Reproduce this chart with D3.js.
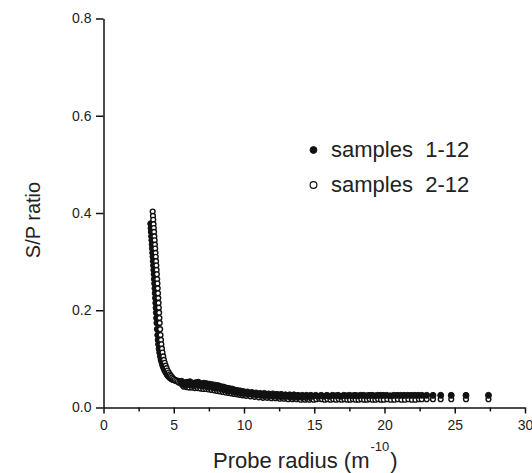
<!DOCTYPE html>
<html>
<head>
<meta charset="utf-8">
<script src="https://cdn.jsdelivr.net/npm/d3@7"></script>
<style>
  body { margin: 0; background: #fff; }
  svg { font-family: "Liberation Sans", Arial, sans-serif; }
  .axis path, .axis line { stroke: #111; stroke-width: 1.5; }
  .axis text { font-size: 14px; fill: #222; }
  .title { font-size: 22px; fill: #222; }
  .legend text { font-size: 22px; fill: #222; }
</style>
</head>
<body>
<svg id="chart"></svg>
<script>
// samples 1-12 (filled circles): [probe radius, S/P ratio]
var samples112 = [
  [3.36,0.378],[3.38,0.369],[3.40,0.361],[3.42,0.352],[3.44,0.344],[3.46,0.335],[3.48,0.327],[3.50,0.318],
  [3.52,0.310],[3.54,0.301],[3.56,0.292],[3.58,0.283],[3.60,0.274],[3.62,0.264],[3.64,0.255],[3.66,0.245],
  [3.68,0.235],[3.70,0.225],[3.72,0.215],[3.74,0.205],[3.76,0.195],[3.78,0.184],[3.80,0.174],[3.83,0.161],
  [3.86,0.149],[3.89,0.139],[3.92,0.130],[3.96,0.121],[4.00,0.113],[4.05,0.105],[4.10,0.098],[4.16,0.092],
  [4.22,0.086],[4.29,0.081],[4.36,0.076],[4.44,0.072],[4.52,0.068],[4.60,0.065],[4.69,0.062],[4.78,0.060],
  [4.88,0.058],[4.98,0.057],[5.08,0.056],[5.20,0.055],[5.32,0.054],[5.44,0.053],
  [5.55,0.054],[5.65,0.048],[5.75,0.051],[5.85,0.046],[5.95,0.052],[6.05,0.048],[6.15,0.053],[6.25,0.047],
  [6.35,0.050],[6.45,0.045],[6.55,0.051],[6.65,0.047],[6.75,0.052],[6.85,0.046],[6.95,0.049],[7.05,0.044],
  [7.15,0.050],[7.25,0.046],[7.35,0.049],[7.45,0.043],[7.55,0.048],[7.65,0.044],[7.75,0.047],[7.85,0.041],
  [7.95,0.046],[8.05,0.041],[8.15,0.045],[8.25,0.040],[8.35,0.043],[8.45,0.038],[8.55,0.042],[8.65,0.037],
  [8.75,0.040],[8.85,0.035],[8.95,0.039],[9.05,0.035],[9.15,0.038],[9.25,0.033],[9.35,0.036],[9.45,0.032],
  [9.55,0.035],[9.65,0.031],[9.75,0.034],[9.85,0.030],[9.95,0.033],
  [10.10,0.029],[10.25,0.032],[10.40,0.028],[10.55,0.031],[10.70,0.027],[10.85,0.030],[11.00,0.026],[11.15,0.029],
  [11.30,0.025],[11.45,0.029],[11.60,0.025],[11.75,0.028],[11.90,0.024],[12.05,0.028],[12.20,0.024],[12.35,0.027],
  [12.50,0.023],[12.65,0.027],[12.80,0.023],[12.95,0.026],[13.10,0.023],[13.25,0.026],[13.40,0.022],[13.55,0.026],
  [13.70,0.022],[13.85,0.025],[14.00,0.022],[14.15,0.025],[14.30,0.022],[14.45,0.025],[14.60,0.022],[14.75,0.025],
  [14.90,0.023],
  [15.10,0.025],[15.30,0.023],[15.50,0.025],[15.70,0.023],[15.90,0.025],[16.10,0.023],[16.30,0.025],[16.50,0.024],
  [16.70,0.025],[16.90,0.023],[17.10,0.025],[17.30,0.024],[17.50,0.025],[17.70,0.024],[17.90,0.025],[18.10,0.024],
  [18.30,0.025],[18.50,0.025],[18.70,0.024],[18.90,0.025],[19.10,0.025],[19.30,0.024],[19.50,0.025],[19.70,0.025],
  [19.90,0.025],[20.15,0.025],[20.40,0.024],[20.65,0.025],[20.90,0.025],[21.15,0.025],[21.40,0.025],[21.65,0.025],
  [21.90,0.025],[22.15,0.025],[22.40,0.025],[22.65,0.025],[23.00,0.025],[23.45,0.025],[24.00,0.025],[24.75,0.025],
  [25.80,0.025],[27.40,0.025]
];

// samples 2-12 (open circles): [probe radius, S/P ratio]
var samples212 = [
  [3.50,0.403],[3.52,0.394],[3.54,0.386],[3.56,0.377],[3.58,0.369],[3.60,0.361],[3.62,0.352],[3.64,0.344],
  [3.66,0.335],[3.68,0.327],[3.70,0.318],[3.72,0.310],[3.74,0.301],[3.76,0.292],[3.78,0.283],[3.80,0.274],
  [3.82,0.264],[3.84,0.255],[3.86,0.245],[3.88,0.235],[3.90,0.225],[3.92,0.215],[3.94,0.205],[3.96,0.195],
  [3.98,0.184],[4.00,0.174],[4.03,0.161],[4.06,0.149],[4.09,0.139],[4.12,0.130],[4.16,0.121],[4.20,0.113],
  [4.25,0.105],[4.30,0.098],[4.36,0.092],[4.42,0.086],[4.49,0.081],[4.56,0.076],[4.64,0.072],[4.72,0.068],
  [4.80,0.065],[4.89,0.062],[4.98,0.059],[5.08,0.057],[5.18,0.055],[5.28,0.053],[5.39,0.051],[5.50,0.050],
  [5.60,0.047],[5.70,0.043],[5.80,0.046],[5.90,0.042],[6.00,0.046],[6.10,0.041],[6.20,0.045],[6.30,0.041],
  [6.40,0.044],[6.50,0.040],[6.60,0.044],[6.70,0.040],[6.80,0.043],[6.90,0.039],[7.00,0.043],[7.10,0.038],
  [7.20,0.042],[7.30,0.038],[7.40,0.041],[7.50,0.037],[7.60,0.040],[7.70,0.036],[7.80,0.039],[7.90,0.035],
  [8.00,0.038],[8.10,0.034],[8.20,0.037],[8.30,0.033],[8.40,0.036],[8.50,0.032],[8.60,0.035],[8.70,0.031],
  [8.80,0.034],[8.90,0.030],[9.00,0.033],[9.10,0.029],[9.20,0.032],[9.30,0.028],[9.40,0.031],[9.50,0.027],
  [9.60,0.030],[9.70,0.026],[9.80,0.029],[9.90,0.025],[10.00,0.028],
  [10.15,0.024],[10.30,0.027],[10.45,0.023],[10.60,0.026],[10.75,0.022],[10.90,0.025],[11.05,0.021],[11.20,0.024],
  [11.35,0.020],[11.50,0.023],[11.65,0.020],[11.80,0.022],[11.95,0.019],[12.10,0.022],[12.25,0.019],[12.40,0.021],
  [12.55,0.018],[12.70,0.021],[12.85,0.018],[13.00,0.020],[13.15,0.017],[13.30,0.020],[13.45,0.017],[13.60,0.019],
  [13.75,0.017],[13.90,0.019],[14.05,0.016],[14.20,0.019],[14.35,0.016],[14.50,0.018],[14.65,0.016],[14.80,0.018],
  [14.95,0.016],
  [15.15,0.017],[15.35,0.018],[15.55,0.017],[15.75,0.016],[15.95,0.017],[16.15,0.016],[16.35,0.017],[16.55,0.016],
  [16.75,0.017],[16.95,0.016],[17.15,0.017],[17.35,0.016],[17.55,0.016],[17.75,0.017],[17.95,0.016],[18.15,0.016],
  [18.35,0.017],[18.55,0.016],[18.75,0.016],[18.95,0.017],[19.15,0.016],[19.35,0.016],[19.55,0.017],[19.75,0.016],
  [19.95,0.016],[20.20,0.017],[20.45,0.016],[20.70,0.016],[20.95,0.017],[21.20,0.016],[21.45,0.016],[21.70,0.017],
  [21.95,0.016],[22.20,0.016],[22.45,0.017],[22.65,0.017],[23.00,0.017],[23.45,0.017],[24.00,0.017],[24.75,0.017],
  [25.80,0.017],[27.40,0.017]
];

var yTicks = [0, 0.2, 0.4, 0.6, 0.8];
var xTicks = [0, 5, 10, 15, 20, 25, 30];
var xMinorTicks = [2.5, 7.5, 12.5, 17.5, 22.5, 27.5];
var legendLabels = ["samples  1-12", "samples  2-12"];

var width = 532, height = 473;

var svg = d3.select("#chart")
    .attr("width", width)
    .attr("height", height);

// Scales
var x = d3.scaleLinear().domain([0, 30]).range([103.5, 525]);
var y = d3.scaleLinear().domain([0, 0.8]).range([407.5, 18.5]);

function drawFilled(data) {
    svg.append("g")
        .selectAll("circle")
        .data(data)
        .enter().append("circle")
        .attr("cx", d => x(d[0]))
        .attr("cy", d => y(d[1]))
        .attr("r", 3)
        .attr("fill", "#111")
        .attr("stroke", "#111")
        .attr("stroke-width", 1);
}

// steep part of the filled series sits under the open circles
drawFilled(samples112.filter(d => d[0] < 5.5));

svg.append("g")
    .selectAll("circle")
    .data(samples212)
    .enter().append("circle")
    .attr("cx", d => x(d[0]))
    .attr("cy", d => y(d[1]))
    .attr("r", 2.4)
    .attr("fill", "#fff")
    .attr("stroke", "#111")
    .attr("stroke-width", 1.4);

// flat part of the filled series is drawn over the open ones
drawFilled(samples112.filter(d => d[0] >= 5.5));

// Minor x ticks
svg.append("g")
    .attr("class", "axis")
    .attr("transform", "translate(0," + y(0) + ")")
    .call(d3.axisBottom(x).tickValues(xMinorTicks).tickSize(4).tickFormat(""))
    .select(".domain").remove();

// x axis
svg.append("g")
    .attr("class", "axis")
    .attr("transform", "translate(0," + y(0) + ")")
    .call(d3.axisBottom(x).tickValues(xTicks).tickSize(6).tickSizeOuter(0).tickPadding(7).tickFormat(d3.format("d")));

// y axis
svg.append("g")
    .attr("class", "axis")
    .attr("transform", "translate(" + x(0) + ",0)")
    .call(d3.axisLeft(y).tickValues(yTicks).tickSize(7.5).tickSizeOuter(0).tickPadding(4.5).tickFormat(d3.format(".1f")));

// x axis title
var xt = svg.append("text")
    .attr("class", "title")
    .attr("x", 213)
    .attr("y", 468);
xt.append("tspan").text("Probe radius (m");
xt.append("tspan").attr("dy", -17).attr("dx", 1).style("font-size", "13px").text("-10");
xt.append("tspan").attr("dy", 17).attr("dx", 1).text(")");

// y axis title
svg.append("text")
    .attr("class", "title")
    .attr("text-anchor", "middle")
    .attr("transform", "rotate(-90)")
    .attr("x", -220)
    .attr("y", 40)
    .style("font-size", "20px")
    .text("S/P ratio");

// Legend
var legend = svg.append("g").attr("class", "legend");
var legendY = [150, 185];
legend.append("circle")
    .attr("cx", 313.5).attr("cy", legendY[0]).attr("r", 3.4)
    .attr("fill", "#111").attr("stroke", "#111");
legend.append("circle")
    .attr("cx", 313.5).attr("cy", legendY[1]).attr("r", 3.4)
    .attr("fill", "#fff").attr("stroke", "#111").attr("stroke-width", 1.2);
legend.selectAll("text")
    .data(legendLabels)
    .enter().append("text")
    .attr("x", 331)
    .attr("y", (d, i) => legendY[i] + 7)
    .style("white-space", "pre")
    .attr("xml:space", "preserve")
    .text(d => d);
</script>
</body>
</html>
